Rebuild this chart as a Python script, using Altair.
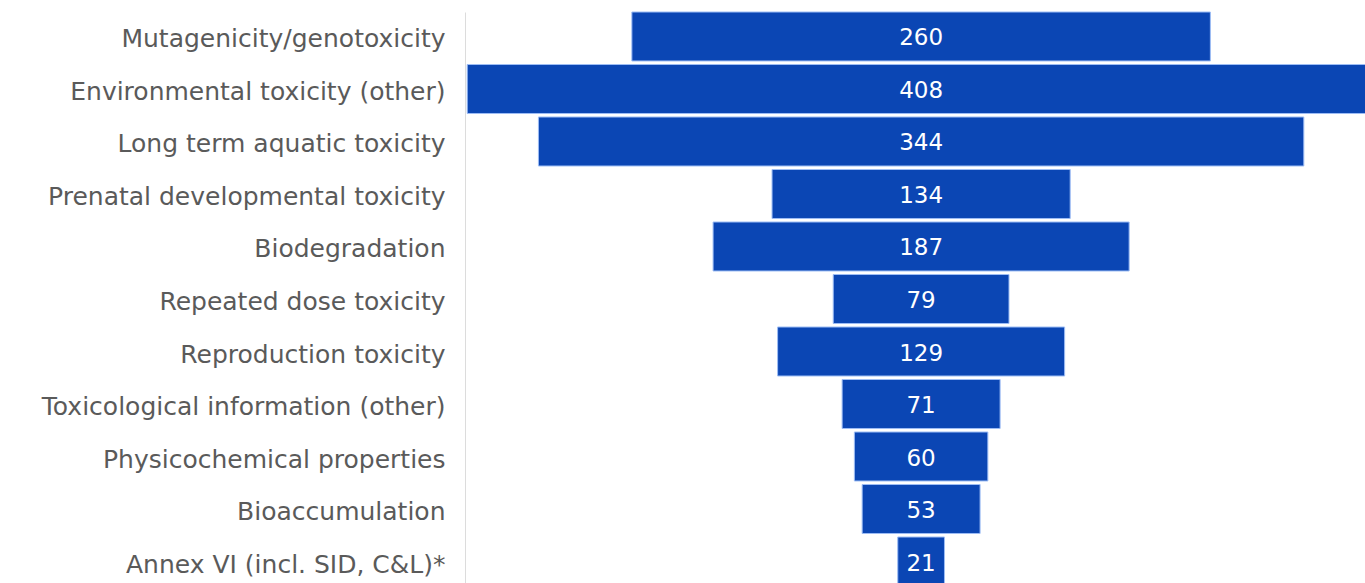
import altair as alt
import pandas as pd

categories = [
    "Mutagenicity/genotoxicity",
    "Environmental toxicity (other)",
    "Long term aquatic toxicity",
    "Prenatal developmental toxicity",
    "Biodegradation",
    "Repeated dose toxicity",
    "Reproduction toxicity",
    "Toxicological information (other)",
    "Physicochemical properties",
    "Bioaccumulation",
    "Annex VI (incl. SID, C&L)*",
]
values = [260, 408, 344, 134, 187, 79, 129, 71, 60, 53, 21]

df = pd.DataFrame({"category": categories, "value": values})

FONT = "DejaVu Sans"
BLUE = "#0b46b4"

base = alt.Chart(df).transform_calculate(
    lo="-datum.value/2", hi="datum.value/2", mid="0"
)

yscale = alt.Scale(paddingInner=0.067, paddingOuter=0, range=[12, 586])

y_axis = alt.Axis(
    labelFont=FONT,
    labelFontSize=25,
    labelColor="#5a5a5a",
    labelPadding=20,
    labelOffset=3,
    ticks=False,
    domain=True,
    domainColor="#dcdcdc",
    domainWidth=1,
    grid=False,
    labelLimit=600,
)

xscale = alt.Scale(domain=[-205, 199.5], nice=False, zero=False)

bars = base.mark_bar(color=BLUE, stroke="#9dbdf5", strokeWidth=1).encode(
    y=alt.Y("category:N", sort=None, title=None, scale=yscale, axis=y_axis),
    x=alt.X("lo:Q", scale=xscale, axis=None),
    x2="hi:Q",
)

labels = base.mark_text(
    color="white", font=FONT, fontSize=23, align="center", baseline="middle", dy=2
).encode(
    y=alt.Y("category:N", sort=None, title=None, scale=yscale, axis=y_axis),
    x=alt.X("mid:Q", scale=xscale, axis=None),
    text="value:Q",
)

chart = (
    alt.layer(bars, labels)
    .properties(
        width=900,
        height=583,
        autosize=alt.AutoSizeParams(type="none"),
        padding={"left": 465, "top": 0, "right": 0, "bottom": 0},
    )
    .configure_view(stroke="transparent", strokeWidth=0)
    .configure(
        background="white",
        style={"cell": {"stroke": "transparent", "strokeWidth": 0}},
    )
)

chart.save("out.html", embed_options={"renderer": "svg", "actions": False})
